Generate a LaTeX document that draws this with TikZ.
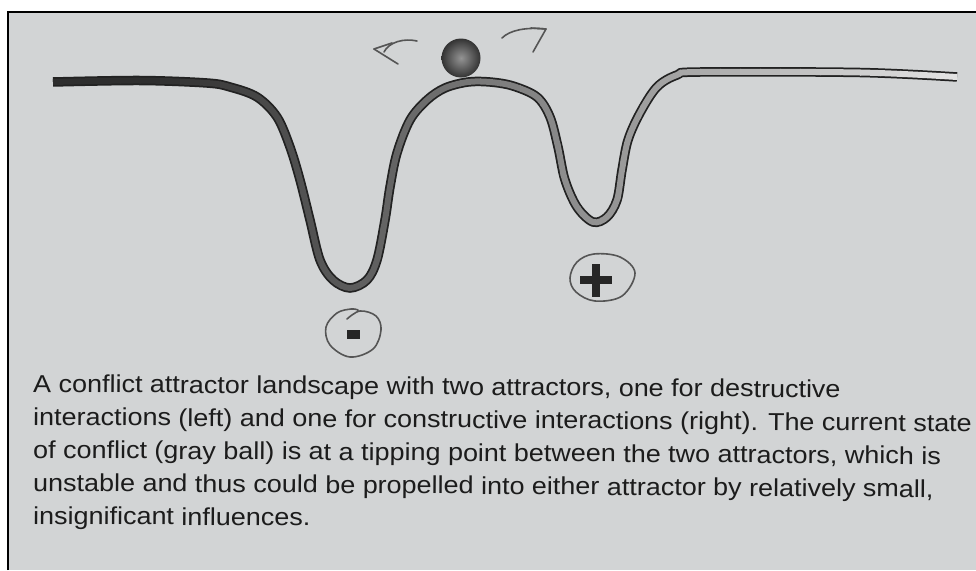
\documentclass[tikz,border=0pt]{standalone}
\usepackage{fontspec}
\setmainfont{Liberation Sans}
\newfontfamily\capfont[FakeStretch=1.1]{Liberation Sans}
\definecolor{pagebg}{RGB}{210,212,213}
\definecolor{tubeout}{RGB}{34,34,34}
\definecolor{tubedark}{RGB}{46,46,46}
\definecolor{tubelight}{RGB}{226,226,226}
\definecolor{pencil}{RGB}{85,85,85}
\definecolor{inkc}{RGB}{28,28,28}
\tikzset{
  captionline/.style={anchor=base west, inner sep=0pt, rotate=-0.4,
    font=\capfont\fontsize{24.5}{33}\selectfont, text=inkc},
  handdrawn/.style={draw=pencil, line width=1.6pt, line cap=round, line join=round},
  signbar/.style={fill=black!85, draw=none, inner sep=0pt},
}
\def\landscape{plot[smooth, tension=0.55] coordinates {
 (53,82) (140,80.5) (207,83) (230,87) (257,97) (277,117) (290,147) (300,180)
 (310,220) (320,260) (333,280) (350,288) (367,280) (377,260) (385,220) (390,187)
 (397,153) (410,120) (427,100) (445,88) (468,82) (490,82) (513,86) (537,97)
 (550,117) (558,147) (565,180) (577,207) (593,222) (607,217) (617,200) (622,170)
 (628,140) (640,113) (657,87) (677,75) (700,72) (860,72.5) (957,77)}}
\begin{document}
\begin{tikzpicture}[x=1pt,y=-1pt]
\useasboundingbox (0,0) rectangle (976,570);
\fill[white] (0,0) rectangle (976,570);
\fill[pagebg] (8,12) rectangle (976,570);
\draw[black, line width=2pt] (8,570) -- (8,12) -- (976,12);
% landscape tube: dark outline, core shading from dark (left) to light (right)
\draw[tubeout, line width=9.5pt, line cap=butt] \landscape;
\foreach \i in {0,...,46}{
  \pgfmathsetmacro\xa{40+\i*20}
  \pgfmathsetmacro\xb{\xa+21}
  \pgfmathsetmacro\tubemix{max(0,min(100,(\xa+10-150)/(950-150)*100))}
  \begin{scope}
    \clip (\xa,0) rectangle (\xb,570);
    \draw[tubelight!\tubemix!tubedark, line width=6pt, line cap=butt] \landscape;
  \end{scope}
}
% ball
\shade[inner color=black!42, outer color=black!80] (461,58) circle[radius=19.5];
\coordinate (ball) at (461,58);
% hand-drawn arrows
\coordinate (lt) at (374,49);
\draw[handdrawn] (lt) -- (398,64);
\draw[handdrawn] (lt) -- (392,43);
\draw[handdrawn] (384,52) .. controls (389,42) and (404,38) .. (417,41);
\coordinate (rt) at (546,29);
\draw[handdrawn] (502,38) .. controls (510,30) and (526,27) .. (rt);
\draw[handdrawn] (531,28) -- (rt) -- (533,52);
% minus sign with pencil circle
\node[signbar, minimum width=13pt, minimum height=9pt] (minus) at (353.5,334.5) {};
\draw[handdrawn] plot[smooth, tension=0.6] coordinates {
 (347,319) (360,311) (376,316) (381,330) (373,349) (350,357) (330,345) (326,327) (337,313) (351,309) (358,310)};
% plus sign with pencil circle
\node[signbar, minimum width=32pt, minimum height=8pt] (plush) at (596,280) {};
\node[signbar, minimum width=8pt, minimum height=33pt] (plusv) at (596,280) {};
\draw[handdrawn] plot[smooth cycle, tension=0.6] coordinates {
 (570,278) (577,262) (594,254) (620,257) (635,273) (622,296) (595,301) (576,292)};
% caption
\node[captionline] (c1) at (33,392) {A conflict attractor landscape with two attractors, one for destructive};
\node[captionline] (c2) at (33,425) {interactions (left) and one for constructive interactions (right). The current state};
\node[captionline] (c3) at (33,458) {of conflict (gray ball) is at a tipping point between the two attractors, which is};
\node[captionline] (c4) at (33,491) {unstable and thus could be propelled into either attractor by relatively small,};
\node[captionline] (c5) at (33,524) {insignificant influences.};
\end{tikzpicture}
\end{document}
